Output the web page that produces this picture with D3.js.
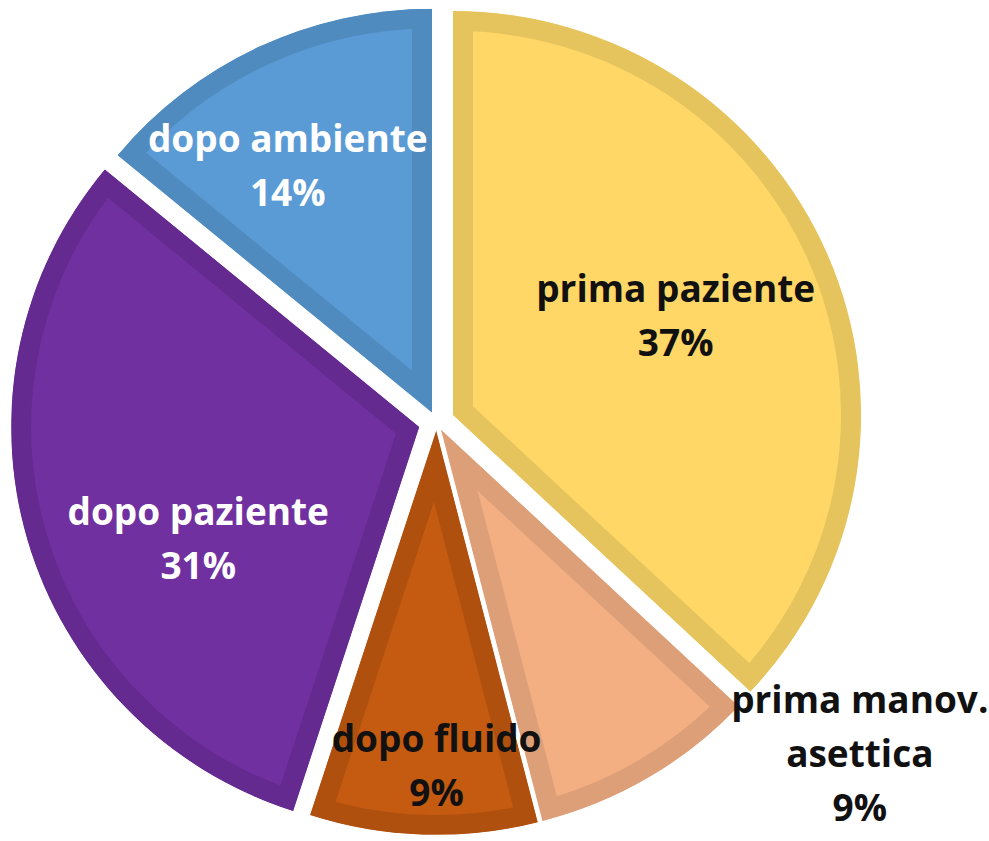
<!DOCTYPE html>
<html>
<head>
<meta charset="utf-8">
<script src="https://cdn.jsdelivr.net/npm/d3@7"></script>
<style>
  body { margin: 0; background: #fff; }
  svg { display: block; }
</style>
</head>
<body>
<script>
const svgWidth = 989;
const svgHeight = 841;

const categories = ['prima paziente', 'prima manov. asettica', 'dopo fluido', 'dopo paziente', 'dopo ambiente'];
const percentages = [37, 9, 9, 31, 14];
const labelLines = [
    ['prima paziente', '37%'],
    ['prima manov.', 'asettica', '9%'],
    ['dopo fluido', '9%'],
    ['dopo paziente', '31%'],
    ['dopo ambiente', '14%']
];

const fills = ['#FED766', '#F3AE82', '#C55A11', '#7030A0', '#5B9BD5'];
const borders = ['#E5C35D', '#DC9F78', '#B0500F', '#642A8F', '#508BC0'];
const textColors = ['#111', '#111', '#111', '#fff', '#fff'];

// point explosion per slice, like the excel original
const explode = [18, 9, 9, 18, 10.5];
// label nudges from the centroid of the label arc (excel "best fit")
const labelNudge = [[-21, 7], [279, 88], [9, 61], [34, 38], [-28, 1]];

const cx = 436.5, cy = 422;
const radius = 408;
const borderWidth = 20;
const fontSize = 37;
const lineGap = 54;

const data = categories.map((c, i) => ({ name: c, value: percentages[i], i: i }));

const pie = d3.pie().value(d => d.value).sort(null);
const arcs = pie(data);

const arc = d3.arc().innerRadius(0).outerRadius(radius);
const labelArc = d3.arc().innerRadius(283.5).outerRadius(283.5);

const svg = d3.select('body').append('svg').attr('width', svgWidth).attr('height', svgHeight);
const defs = svg.append('defs');

const pieG = svg.append('g').attr('transform', `translate(${cx},${cy}) scale(1,0.99)`);

const slices = pieG.selectAll('g.slice').data(arcs).enter().append('g').classed('slice', true)
    .attr('transform', (d, i) => {
        const mid = (d.startAngle + d.endAngle) / 2;
        return `translate(${explode[i] * Math.sin(mid)},${-explode[i] * Math.cos(mid)})`;
    });

slices.each(function(d, i) {
    defs.append('clipPath').attr('id', 'clip' + i)
        .append('path').attr('d', arc(d));
});

slices.append('path')
    .attr('d', d => arc(d))
    .attr('clip-path', (d, i) => `url(#clip${i})`)
    .style('fill', (d, i) => fills[i])
    .style('stroke', (d, i) => borders[i])
    .style('stroke-width', borderWidth * 2)
    .style('stroke-linejoin', 'miter')
    .style('stroke-miterlimit', 10);

// labels
const labels = svg.selectAll('g.label').data(arcs).enter().append('g').classed('label', true)
    .attr('transform', (d, i) => {
        const [x, y] = labelArc.centroid(d);
        return `translate(${cx + x + labelNudge[i][0]},${cy + y + labelNudge[i][1]})`;
    });

labels.each(function(d, i) {
    const lines = labelLines[i];
    const first = -(lines.length - 1) / 2 * lineGap + 13;
    d3.select(this).selectAll('text').data(lines).enter().append('text')
        .attr('x', 0)
        .attr('y', (t, j) => first + j * lineGap)
        .text(t => t)
        .style('text-anchor', 'middle')
        .style('font-family', '"Open Sans", sans-serif')
        .style('font-weight', 'bold')
        .style('font-size', fontSize + 'px')
        .style('fill', textColors[i]);
});
</script>
</body>
</html>
